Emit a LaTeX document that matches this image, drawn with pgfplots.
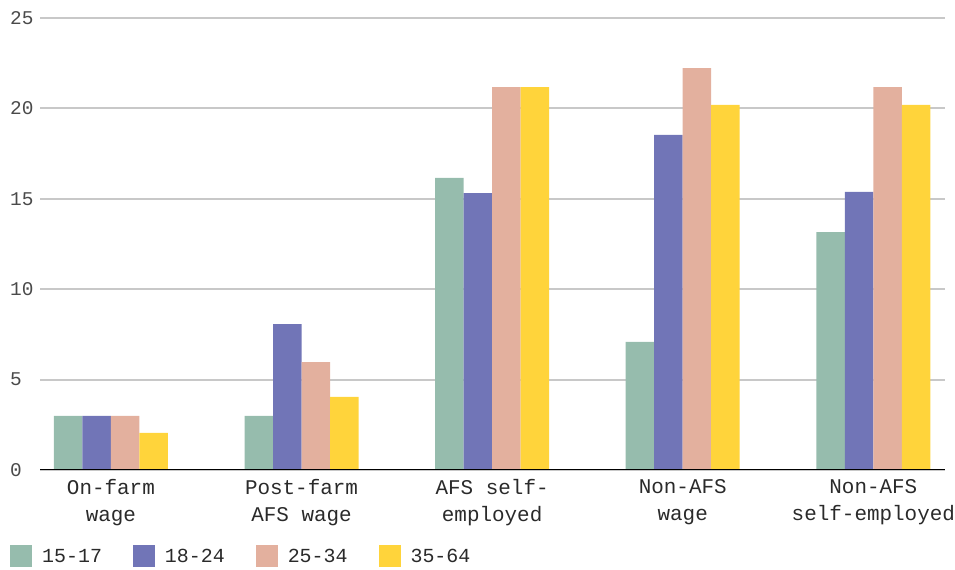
\documentclass[border=0pt]{standalone}
\usepackage{fontspec}
\setmainfont{Liberation Mono}
\usepackage{pgfplots}
\pgfplotsset{compat=1.18}
\definecolor{cA}{HTML}{96BCAD}
\definecolor{cB}{HTML}{7175B7}
\definecolor{cC}{HTML}{E3B09E}
\definecolor{cD}{HTML}{FFD43B}
\definecolor{gridc}{HTML}{C8C8C8}
\definecolor{txt}{HTML}{2A2A2A}
\begin{document}
\begin{tikzpicture}[x=1bp,y=1bp]
\path[use as bounding box] (0,0) rectangle (955,570);
\begin{axis}[
  at={(40bp,100bp)}, anchor=south west, scale only axis,
  width=905bp, height=452bp,
  xmin=-0.372, xmax=4.376, ymin=0, ymax=25,
  ybar=0pt, bar width=28.5bp,
  axis line style={draw=none},
  major tick length=0pt,
  ytick={0,5,10,15,20,25},
  ymajorgrids, grid style={gridc, line width=2bp},
  xtick={0,1,2,3,4},
  xticklabels={{On-farm\\wage},{Post-farm\\AFS wage},{AFS self-\\employed},{Non-AFS\\wage},{Non-AFS\\self-employed}},
  xticklabel style={align=center, font=\fontsize{21}{27}\selectfont, text=txt, inner sep=0pt, yshift=-9bp},
  yticklabel style={anchor=west, inner sep=0pt, xshift=-30bp, font=\fontsize{19.5}{20}\selectfont, text=txt!85},
  /pgf/number format/assume math mode=true,
  legend columns=4,
  legend image code/.code={\fill[#1] (0bp,-11bp) rectangle (22bp,11bp);},
  legend style={draw=none, at={(0,0)}, anchor=north west, xshift=-30bp, yshift=-75bp,
    font=\fontsize{20}{22}\selectfont, text=txt, inner sep=0pt,
    /tikz/every odd column/.append style={column sep=10bp},
    /tikz/every even column/.append style={column sep=31bp},
    nodes={inner sep=0pt}},
]
\addplot[fill=cA, draw=none] coordinates {(0,3) (1,3) (2,16.15) (3,7.08) (4,13.16)};
\addplot[fill=cB, draw=none] coordinates {(0,3) (1,8.07) (2,15.32) (3,18.53) (4,15.38)};
\addplot[fill=cC, draw=none] coordinates {(0,3) (1,5.97) (2,21.18) (3,22.23) (4,21.18)};
\addplot[fill=cD, draw=none] coordinates {(0,2.05) (1,4.04) (2,21.18) (3,20.19) (4,20.19)};
\legend{15-17,18-24,25-34,35-64}
\draw[black, line width=2bp] (rel axis cs:0,0) -- (rel axis cs:1,0);
\end{axis}
\end{tikzpicture}
\end{document}
